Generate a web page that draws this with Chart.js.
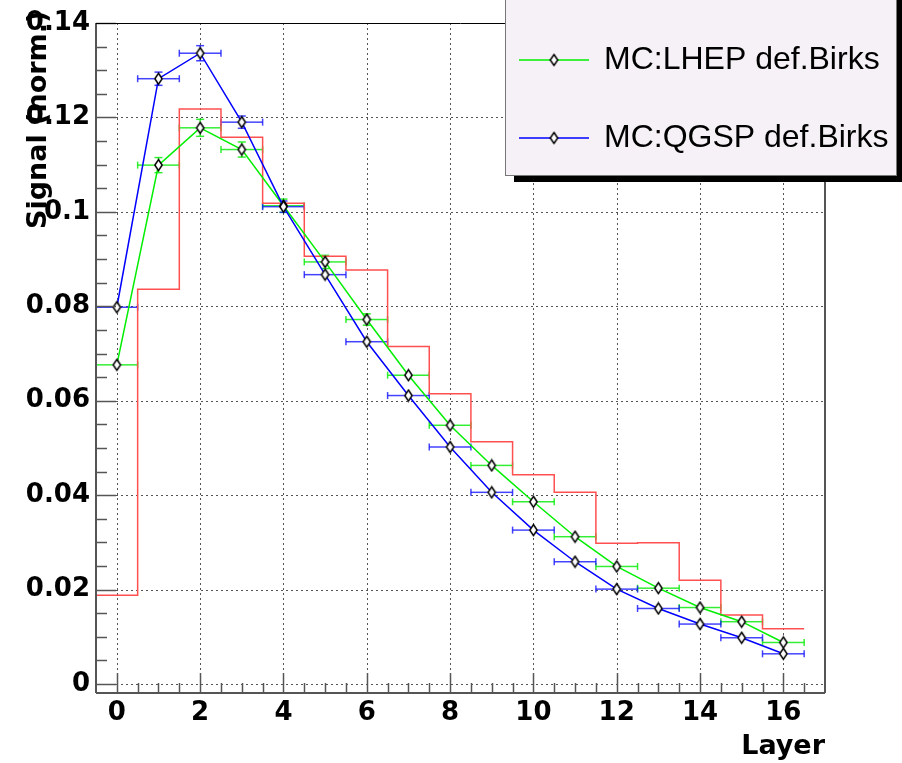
<!DOCTYPE html>
<html>
<head>
<meta charset="utf-8">
<title>Signal vs Layer</title>
<script src="https://cdn.jsdelivr.net/npm/chart.js@4/dist/chart.umd.min.js"></script>
<style>
  html, body { margin: 0; padding: 0; background: #fff; }
  #wrap { width: 902px; height: 763px; }
</style>
</head>
<body>
<div id="wrap"><canvas id="chart" width="902" height="763"></canvas></div>
<script>
// layer numbers (bin centres)
const layers = [0, 1, 2, 3, 4, 5, 6, 7, 8, 9, 10, 11, 12, 13, 14, 15, 16];

// data histogram (red)
const dataSignal = [0.0188, 0.0836, 0.1218, 0.1158, 0.1018, 0.0906, 0.0877, 0.0715, 0.0615,
  0.0513, 0.0443, 0.0406, 0.0298, 0.0299, 0.0220, 0.0146, 0.0117];

// MC:LHEP def.Birks (green)
const lhepSignal = [0.0676, 0.1099, 0.1178, 0.1132, 0.1013, 0.0894, 0.0772, 0.0654, 0.0548,
  0.0463, 0.0386, 0.0312, 0.0249, 0.0203, 0.0162, 0.0132, 0.0088];
const lhepErr = [0.0010, 0.0016, 0.0018, 0.0016, 0.0014, 0.0014, 0.0012, 0.0008, 0.0006,
  0.0005, 0.0005, 0.0004, 0.0004, 0.0003, 0.0003, 0.0003, 0.0003];

// MC:QGSP def.Birks (blue)
const qgspSignal = [0.0798, 0.1282, 0.1336, 0.1190, 0.1011, 0.0867, 0.0725, 0.0611, 0.0502,
  0.0406, 0.0326, 0.0259, 0.0201, 0.0160, 0.0127, 0.0098, 0.0064];
const qgspErr = [0.0005, 0.0014, 0.0016, 0.0013, 0.0012, 0.0008, 0.0006, 0.0006, 0.0005,
  0.0005, 0.0004, 0.0004, 0.0004, 0.0003, 0.0003, 0.0003, 0.0003];

const binHalfWidth = 0.5;

// axes
const xTicks = [0, 2, 4, 6, 8, 10, 12, 14, 16];
const yTicks = [0, 0.02, 0.04, 0.06, 0.08, 0.1, 0.12, 0.14];
const yTickLabels = ['0', '0.02', '0.04', '0.06', '0.08', '0.1', '0.12', '0.14'];
const xMinorStep = 0.5;
const yMinorStep = 0.005;

const tickFont = { family: 'DejaVu Sans', weight: 'bold', size: 26 };

// diamond marker, black outline on white
function makeDiamond() {
  const c = document.createElement('canvas');
  c.width = 11; c.height = 14;
  const g = c.getContext('2d');
  g.strokeStyle = '#000';
  g.fillStyle = '#fff';
  g.lineWidth = 1.5;
  g.beginPath();
  g.moveTo(5.5, 1.5);
  g.lineTo(9.2, 7);
  g.lineTo(5.5, 12.5);
  g.lineTo(1.8, 7);
  g.closePath();
  g.fill();
  g.stroke();
  return c;
}
const diamond = makeDiamond();
const markerGapX = 4;   // error bars stop at the marker edge
const markerGapY = 5.5;

// histogram as step line through bin centres, padded to the outer bin edges
const histPoints = [{ x: layers[0] - binHalfWidth, y: dataSignal[0] }]
  .concat(layers.map((l, i) => ({ x: l, y: dataSignal[i] })))
  .concat([{ x: layers[layers.length - 1] + binHalfWidth, y: dataSignal[dataSignal.length - 1] }]);

const series = [
  { label: 'MC:LHEP def.Birks', values: lhepSignal, errors: lhepErr, errColor: 'rgba(0,235,0,0.8)' },
  { label: 'MC:QGSP def.Birks', values: qgspSignal, errors: qgspErr, errColor: 'rgba(20,20,255,0.8)' }
];

function seg(ctx, x1, y1, x2, y2) {
  ctx.beginPath();
  ctx.moveTo(x1, y1);
  ctx.lineTo(x2, y2);
  ctx.stroke();
}

const rootStyle = {
  id: 'rootStyle',
  beforeDatasetsDraw(chart) {
    const { ctx, chartArea: a, scales: { x, y } } = chart;
    ctx.save();
    // dotted grid
    ctx.strokeStyle = '#555';
    ctx.lineWidth = 1;
    ctx.setLineDash([2, 3]);
    xTicks.forEach(v => {
      const px = Math.round(x.getPixelForValue(v)) + 0.5;
      seg(ctx, px, a.top, px, a.bottom);
    });
    yTicks.forEach(v => {
      const py = Math.round(y.getPixelForValue(v)) + 0.5;
      seg(ctx, a.left, py, a.right, py);
    });
    ctx.setLineDash([]);

    // error bars, skipping the part hidden by the marker
    series.forEach(s => {
      ctx.strokeStyle = s.errColor;
      ctx.lineWidth = 1.5;
      layers.forEach((l, i) => {
        const px = x.getPixelForValue(l);
        const py = y.getPixelForValue(s.values[i]);
        const xl = x.getPixelForValue(l - binHalfWidth);
        const xr = x.getPixelForValue(l + binHalfWidth);
        seg(ctx, xl, py, px - markerGapX, py);
        seg(ctx, px + markerGapX, py, xr, py);
        seg(ctx, xl, py - 3.5, xl, py + 3.5);
        seg(ctx, xr, py - 3.5, xr, py + 3.5);
        const yt = y.getPixelForValue(s.values[i] + s.errors[i]);
        const yb = y.getPixelForValue(s.values[i] - s.errors[i]);
        if (py - yt > markerGapY) {
          seg(ctx, px, yt, px, py - markerGapY);
          seg(ctx, px, py + markerGapY, px, yb);
          seg(ctx, px - 4, yt, px + 4, yt);
          seg(ctx, px - 4, yb, px + 4, yb);
        }
      });
    });
    ctx.restore();
  },
  afterDatasetsDraw(chart) {
    const { ctx, chartArea: a, scales: { x, y } } = chart;
    ctx.save();
    ctx.strokeStyle = '#555';
    ctx.lineWidth = 1.5;
    // x ticks on the bottom frame
    for (let v = 0; v < x.max - 1e-9; v += xMinorStep) {
      const px = Math.round(x.getPixelForValue(v)) + 0.5;
      const major = Math.abs(v % 2) < 1e-9;
      seg(ctx, px, a.bottom, px, a.bottom - (major ? 20 : 10));
    }
    // y ticks on the left frame
    for (let v = 0; v <= y.max + 1e-9; v += yMinorStep) {
      const py = Math.round(y.getPixelForValue(v)) + 0.5;
      const major = Math.abs(Math.round(v / 0.02) * 0.02 - v) < 1e-9;
      seg(ctx, a.left, py, a.left + (major ? 20 : 11), py);
    }
    // frame
    ctx.lineWidth = 2;
    seg(ctx, a.left, a.top, a.left, a.bottom);
    seg(ctx, a.left, a.bottom, a.right, a.bottom);
    seg(ctx, a.right, a.top, a.right, a.bottom);
    ctx.strokeStyle = '#000';
    ctx.lineWidth = 1;
    seg(ctx, a.left, a.top + 0.5, a.right, a.top + 0.5);

    // y axis title, rotated, top-right aligned as in ROOT
    ctx.fillStyle = '#000';
    ctx.font = 'bold 27px "DejaVu Sans"';
    ctx.translate(46, 229);
    ctx.rotate(-Math.PI / 2);
    ctx.textAlign = 'left';
    ctx.textBaseline = 'alphabetic';
    ctx.fillText('Signal (norm.)', 0, 0);
    ctx.restore();
  },
  afterDraw(chart) {
    const { ctx } = chart;
    const box = { left: 505, top: -10, right: 897, bottom: 176 };
    ctx.save();
    // shadow
    ctx.fillStyle = '#000';
    ctx.fillRect(box.left + 9, box.top + 6, box.right - box.left, box.bottom - box.top);
    // box
    ctx.fillStyle = '#f6f1f6';
    ctx.fillRect(box.left, box.top, box.right - box.left, box.bottom - box.top);
    ctx.strokeStyle = '#777';
    ctx.lineWidth = 1;
    ctx.strokeRect(box.left + 0.5, box.top + 0.5, box.right - box.left - 1, box.bottom - box.top - 1);

    const rows = [60, 138];
    ctx.font = '32px "Liberation Sans", Arial, sans-serif';
    ctx.textAlign = 'left';
    ctx.textBaseline = 'alphabetic';
    chart.data.datasets.filter(d => d.inLegend).forEach((d, i) => {
      const ry = rows[i];
      ctx.strokeStyle = d.borderColor;
      ctx.lineWidth = 1.5;
      seg(ctx, 519, ry, 589, ry);
      ctx.drawImage(diamond, 554 - diamond.width / 2, ry - diamond.height / 2);
      ctx.fillStyle = '#000';
      ctx.fillText(d.label, 604, ry + 9);
    });
    ctx.restore();
  }
};

const chart = new Chart(document.getElementById('chart').getContext('2d'), {
  type: 'line',
  data: {
    datasets: [
      {
        label: 'MC:LHEP def.Birks',
        inLegend: true,
        data: layers.map((l, i) => ({ x: l, y: lhepSignal[i] })),
        borderColor: '#00ee00',
        borderWidth: 1.5,
        pointStyle: diamond,
        pointRadius: 5,
        tension: 0,
        order: 2
      },
      {
        label: 'MC:QGSP def.Birks',
        inLegend: true,
        data: layers.map((l, i) => ({ x: l, y: qgspSignal[i] })),
        borderColor: '#0000ff',
        borderWidth: 1.5,
        pointStyle: diamond,
        pointRadius: 5,
        tension: 0,
        order: 1
      },
      {
        label: 'Data',
        inLegend: false,
        data: histPoints,
        borderColor: '#ff5050',
        borderWidth: 1.5,
        pointRadius: 0,
        stepped: 'middle',
        order: 3
      }
    ]
  },
  options: {
    responsive: false,
    devicePixelRatio: 1,
    animation: false,
    events: [],
    layout: { padding: { top: 23, right: 77, left: 0, bottom: 0 } },
    plugins: {
      legend: { display: false },
      tooltip: { enabled: false }
    },
    scales: {
      x: {
        type: 'linear',
        min: -0.5,
        max: 17,
        grid: { display: false, drawTicks: false },
        border: { display: false },
        afterBuildTicks: s => { s.ticks = xTicks.map(v => ({ value: v })); },
        afterFit: s => { s.height = 70; },
        ticks: { font: tickFont, color: '#000', padding: 5, maxRotation: 0, autoSkip: false },
        title: {
          display: true,
          text: 'Layer',
          align: 'end',
          color: '#000',
          font: { family: 'DejaVu Sans', weight: 'bold', size: 27 },
          padding: { top: 0, bottom: 0 }
        }
      },
      y: {
        type: 'linear',
        min: -0.0019,
        max: 0.14,
        grid: { display: false, drawTicks: false },
        border: { display: false },
        afterBuildTicks: s => { s.ticks = yTicks.map(v => ({ value: v })); },
        afterFit: s => { s.width = 96; },
        ticks: {
          font: tickFont,
          color: '#000',
          padding: 6,
          autoSkip: false,
          callback: (v, i) => yTickLabels[i]
        }
      }
    }
  },
  plugins: [rootStyle]
});
</script>
</body>
</html>
